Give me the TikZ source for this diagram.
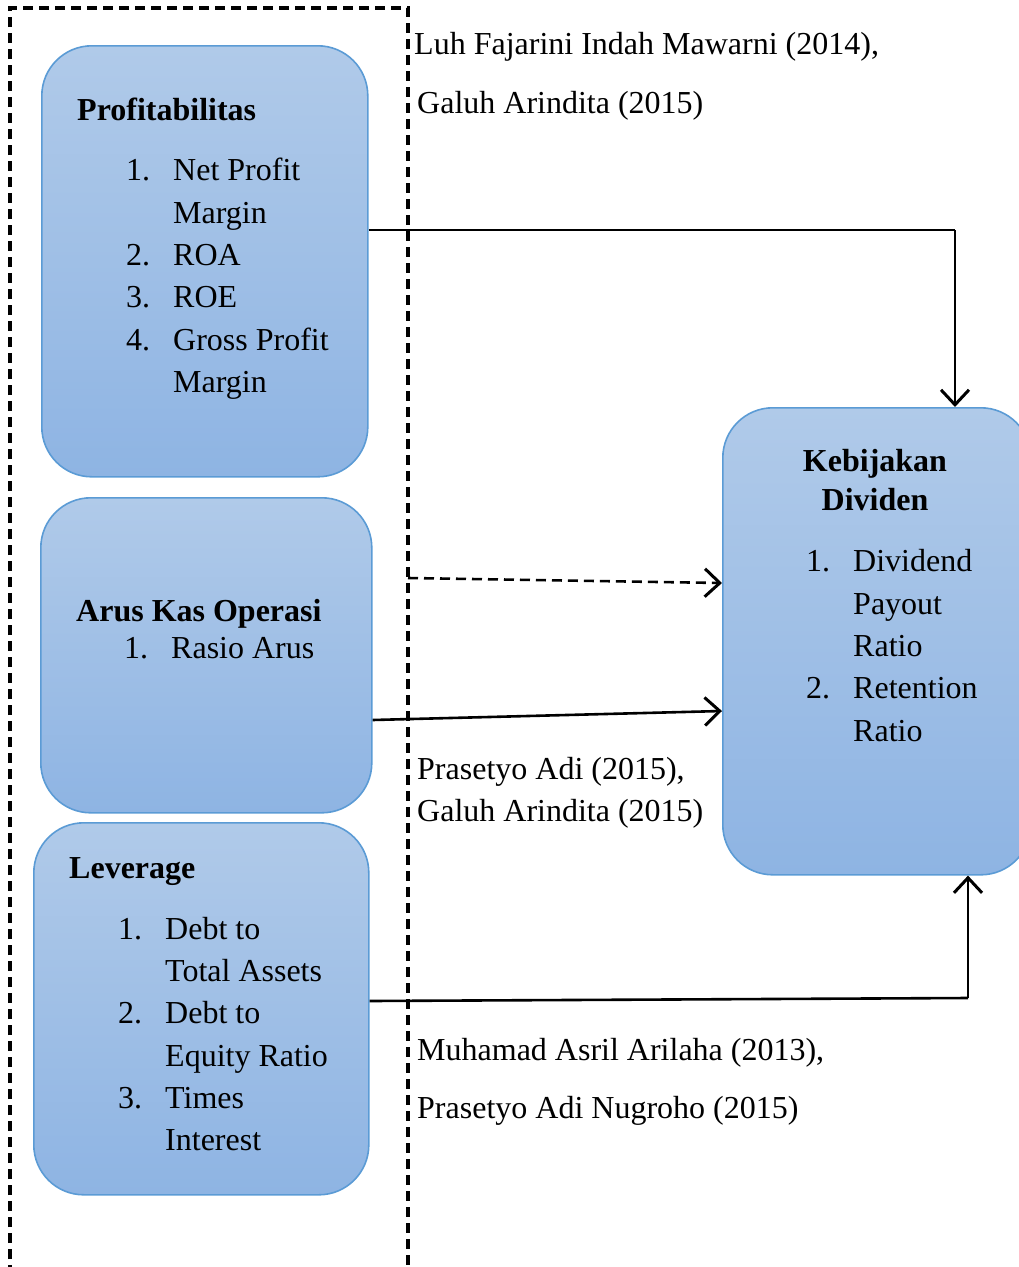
\documentclass[tikz,border=0pt]{standalone}
\usepackage{fontspec}
\setmainfont{Liberation Serif}
\usetikzlibrary{arrows.meta}
\definecolor{boxtop}{HTML}{B0CAE9}
\definecolor{boxbot}{HTML}{8EB4E3}
\definecolor{boxline}{HTML}{5B9BD5}
\begin{document}
\begin{tikzpicture}[x=1pt,y=-1pt,
  varbox/.style={draw=boxline, line width=1.6pt, rounded corners=50pt,
     top color=boxtop, bottom color=boxbot, anchor=north west, inner sep=0pt},
  txt/.style={font=\fontsize{32}{40}\selectfont, inner sep=0pt, anchor=base west},
  ttl/.style={font=\fontsize{32}{40}\selectfont\bfseries, inner sep=0pt, anchor=base west},
  ctl/.style={font=\fontsize{32}{40}\selectfont\bfseries, inner sep=0pt, anchor=base},
  conn/.style={line width=2.6pt, -{Straight Barb[length=15pt,width=28pt,line width=3pt]}},
  frame/.style={line width=3.2pt, dash pattern=on 10pt off 6pt}]
\useasboundingbox (0,0) rectangle (1018,1267);
% dashed frame
\draw[frame] (10,1275) -- (10,8) -- (408,8) -- (408,1275);
% boxes
\node[varbox, minimum width=326pt, minimum height=431pt] (prof) at (41,45) {};
\node[varbox, minimum width=331pt, minimum height=315pt] (arus) at (40,497) {};
\node[varbox, minimum width=335pt, minimum height=372pt] (lev) at (33,822) {};
\node[varbox, minimum width=308pt, minimum height=467pt] (keb) at (722,407) {};
% Profitabilitas
\node[ttl] (pt) at (77,120) {Profitabilitas};
\node[txt] (p1n) at (126,180) {1.};
\node[txt] (p1) at (173,180) {Net Profit};
\node[txt] (p1b) at (173,223) {Margin};
\node[txt] (p2n) at (126,265) {2.};
\node[txt] (p2) at (173,265) {ROA};
\node[txt] (p3n) at (126,307) {3.};
\node[txt] (p3) at (173,307) {ROE};
\node[txt] (p4n) at (126,350) {4.};
\node[txt] (p4) at (173,350) {Gross Profit};
\node[txt] (p4b) at (173,392) {Margin};
% Arus Kas
\node[ttl] (at) at (76,621) {Arus Kas Operasi};
\node[txt] (a1n) at (124,658) {1.};
\node[txt] (a1) at (171,658) {Rasio Arus};
% Leverage
\node[ttl] (lt) at (69,878) {Leverage};
\node[txt] (l1n) at (118,939) {1.};
\node[txt] (l1) at (165,939) {Debt to};
\node[txt] (l1b) at (165,981) {Total Assets};
\node[txt] (l2n) at (118,1023) {2.};
\node[txt] (l2) at (165,1023) {Debt to};
\node[txt] (l2b) at (165,1066) {Equity Ratio};
\node[txt] (l3n) at (118,1108) {3.};
\node[txt] (l3) at (165,1108) {Times};
\node[txt] (l3b) at (165,1150) {Interest};
% Kebijakan
\node[ctl] (kt) at (875,471) {Kebijakan};
\node[ctl] (kt2) at (875,510) {Dividen};
\node[txt] (k1n) at (806,571) {1.};
\node[txt] (k1) at (853,571) {Dividend};
\node[txt] (k1b) at (853,614) {Payout};
\node[txt] (k1c) at (853,656) {Ratio};
\node[txt] (k2n) at (806,698) {2.};
\node[txt] (k2) at (853,698) {Retention};
\node[txt] (k2b) at (853,741) {Ratio};
% citations
\node[txt] (c1) at (414,54) {Luh Fajarini Indah Mawarni (2014),};
\node[txt] (c2) at (417,113) {Galuh Arindita (2015)};
\node[txt] (c3) at (417,779) {Prasetyo Adi (2015),};
\node[txt] (c4) at (417,821) {Galuh Arindita (2015)};
\node[txt] (c5) at (417,1060) {Muhamad Asril Arilaha (2013),};
\node[txt] (c6) at (417,1118) {Prasetyo Adi Nugroho (2015)};
% connectors
\coordinate (b1) at (955,230);
\coordinate (ds) at (408,578);
\coordinate (b3) at (968,998);
\draw[line width=2pt] (prof.east |- b1) -- (b1);
\draw[conn] (b1) -- (keb.north -| b1);
\draw[conn, dash pattern=on 10pt off 6pt] (ds) -- (keb.west |- 0,583);
\draw[conn] (arus.east |- 0,720) -- (keb.west |- 0,711);
\draw[line width=2.6pt] (lev.east |- 0,1001) -- (b3);
\draw[conn] (b3) -- (keb.south -| b3);
\end{tikzpicture}
\end{document}
